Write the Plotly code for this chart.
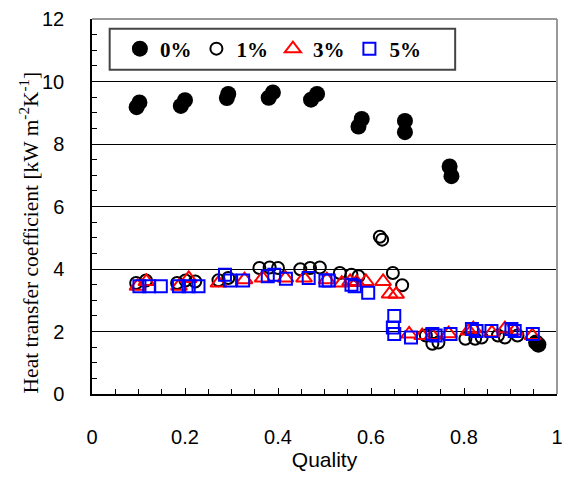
import plotly.graph_objects as go

# Heat transfer coefficient vs. vapour quality for four concentrations
q_0 = [0.096, 0.102, 0.191, 0.200, 0.290, 0.293, 0.380, 0.389, 0.471, 0.484,
       0.573, 0.580, 0.673, 0.673, 0.769, 0.773, 0.955, 0.960]
h_0 = [9.18, 9.33, 9.22, 9.40, 9.47, 9.60, 9.48, 9.65, 9.42, 9.60,
       8.56, 8.80, 8.38, 8.74, 7.28, 6.97, 1.65, 1.58]

q_1 = [0.095, 0.116, 0.183, 0.201, 0.222, 0.272, 0.293, 0.360, 0.382, 0.400,
       0.448, 0.469, 0.490, 0.533, 0.558, 0.573, 0.619, 0.624, 0.647, 0.667,
       0.718, 0.732, 0.745, 0.803, 0.824, 0.838, 0.873, 0.888, 0.915]
h_1 = [3.55, 3.63, 3.55, 3.63, 3.60, 3.64, 3.71, 4.03, 4.05, 4.03,
       3.99, 4.03, 4.05, 3.87, 3.82, 3.77, 5.03, 4.94, 3.87, 3.48,
       1.87, 1.61, 1.65, 1.77, 1.77, 1.81, 1.87, 1.81, 1.87]

q_3 = [0.098, 0.117, 0.187, 0.208, 0.272, 0.328, 0.367, 0.416, 0.456, 0.505,
       0.537, 0.555, 0.569, 0.589, 0.626, 0.640, 0.654, 0.682, 0.710, 0.732,
       0.767, 0.810, 0.820, 0.860, 0.888, 0.909, 0.947]
h_3 = [3.45, 3.60, 3.45, 3.70, 3.55, 3.66, 3.71, 3.71, 3.71, 3.66,
       3.55, 3.60, 3.57, 3.60, 3.60, 3.20, 3.19, 1.92, 1.87, 1.87,
       1.93, 2.02, 2.09, 1.96, 2.09, 2.02, 1.87]

q_5 = [0.102, 0.123, 0.148, 0.187, 0.208, 0.229, 0.286, 0.297, 0.325, 0.378,
       0.392, 0.417, 0.466, 0.502, 0.509, 0.558, 0.565, 0.594, 0.647, 0.650,
       0.650, 0.686, 0.732, 0.739, 0.771, 0.817, 0.827, 0.859, 0.902, 0.909, 0.948]
h_5 = [3.45, 3.45, 3.45, 3.45, 3.45, 3.45, 3.82, 3.63, 3.63, 3.77,
       3.82, 3.69, 3.71, 3.63, 3.63, 3.50, 3.45, 3.24, 2.13, 2.50,
       1.92, 1.81, 1.92, 1.87, 1.92, 2.08, 2.02, 2.02, 2.08, 2.02, 1.92]

series_names = ["0%", "1%", "3%", "5%"]

fig = go.Figure()
fig.add_trace(go.Scatter(
    x=q_0, y=h_0, mode="markers", name="<b>" + series_names[0] + "</b>",
    marker=dict(symbol="circle", size=16, color="black", line=dict(width=0))))
fig.add_trace(go.Scatter(
    x=q_1, y=h_1, mode="markers", name="<b>" + series_names[1] + "</b>",
    marker=dict(symbol="circle-open", size=12, color="black", line=dict(width=2))))
fig.add_trace(go.Scatter(
    x=q_3, y=h_3, mode="markers", name="<b>" + series_names[2] + "</b>",
    marker=dict(symbol="triangle-up-open", size=14, color="#ff0000", line=dict(width=2))))
fig.add_trace(go.Scatter(
    x=q_5, y=h_5, mode="markers", name="<b>" + series_names[3] + "</b>",
    marker=dict(symbol="square-open", size=12, color="#0000ff", line=dict(width=2))))

# legend frame, top/right plot border
fig.add_shape(type="rect", xref="x domain", yref="y domain",
              x0=0.038, x1=0.781, y0=0.865, y1=0.974,
              line=dict(color="#444", width=2), fillcolor="white", layer="above")
fig.add_shape(type="line", xref="x domain", yref="y domain",
              x0=0, x1=1, y0=1, y1=1, line=dict(color="#999", width=2), layer="above")
fig.add_shape(type="line", xref="x domain", yref="y domain",
              x0=1, x1=1, y0=0, y1=1, line=dict(color="#999", width=2), layer="above")

# vertical axis title, set slightly below the plot centre
fig.add_annotation(text="Heat transfer coefficient [kW m<sup>-2</sup>K<sup>-1</sup>]",
                   xref="paper", yref="paper", x=-0.134, y=0.43,
                   xanchor="center", yanchor="middle", textangle=-90, showarrow=False,
                   font=dict(family="Liberation Serif, Times New Roman, serif", size=21.5, color="black"))

tick_font = dict(family="Liberation Sans, Arial, sans-serif", size=20, color="black")

fig.update_layout(
    width=571, height=484,
    margin=dict(l=92, r=8, t=15, b=90),
    plot_bgcolor="white", paper_bgcolor="white",
    showlegend=True,
    legend=dict(orientation="h", x=0.06, y=0.92, xanchor="left", yanchor="middle",
                bgcolor="rgba(0,0,0,0)", borderwidth=0,
                font=dict(family="Liberation Serif, Times New Roman, serif", size=21, color="black"),
                itemclick=False, tracegroupgap=0),
    xaxis=dict(range=[0, 1], dtick=0.2, tick0=0, showgrid=False, zeroline=False,
               showline=True, linecolor="black", linewidth=1.5,
               ticks="inside", ticklen=6, tickwidth=1, tickcolor="black",
               minor=dict(dtick=0.05, ticks="inside", ticklen=5, tickcolor="black", showgrid=False),
               tickfont=tick_font, ticklabelstandoff=24,
               title=dict(text="Quality", standoff=4,
                          font=dict(family="Liberation Sans, Arial, sans-serif", size=21, color="black"))),
    yaxis=dict(range=[0, 12], dtick=2, tick0=0, showgrid=True, gridcolor="black", gridwidth=1,
               zeroline=False, showline=True, linecolor="black", linewidth=1.5,
               ticks="inside", ticklen=5, tickwidth=1, tickcolor="black",
               minor=dict(dtick=0.5, ticks="inside", ticklen=5, tickcolor="black", showgrid=False),
               tickfont=tick_font, ticklabelstandoff=22),
)

fig.write_html("out.html")
